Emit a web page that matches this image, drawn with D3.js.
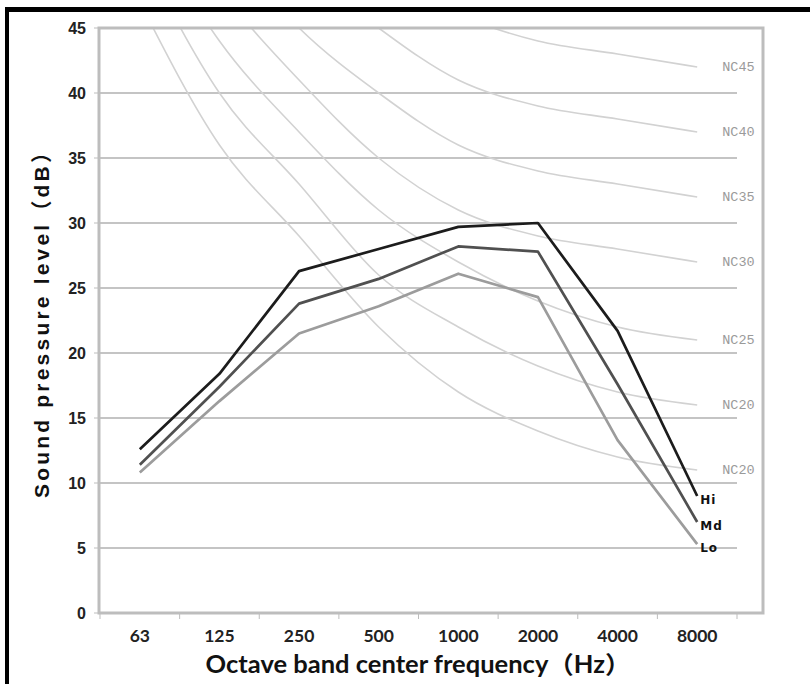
<!DOCTYPE html>
<html>
<head>
<meta charset="utf-8">
<script src="https://cdn.jsdelivr.net/npm/d3@7"></script>
<style>
  body { margin: 0; background: #fff; }
  svg { display: block; }
</style>
</head>
<body>
<div class="container"></div>
<script>
// octave bands
var bands = ["63", "125", "250", "500", "1000", "2000", "4000", "8000"];

// measured levels for each fan speed
var hiValues = [12.6, 18.4, 26.3, 28.0, 29.7, 30.0, 21.7, 9.0];
var mdValues = [11.4, 17.4, 23.8, 25.7, 28.2, 27.8, 17.6, 7.0];
var loValues = [10.8, 16.3, 21.5, 23.6, 26.1, 24.3, 13.3, 5.3];
var seriesNames = ["Hi", "Md", "Lo"];

// NC reference curves (label as printed in the chart)
var ncLabels = ["NC45", "NC40", "NC35", "NC30", "NC25", "NC20", "NC20"];
var ncValues = [
  [67, 60, 54, 49, 46, 44, 43, 42],
  [64, 56, 50, 45, 41, 39, 38, 37],
  [60, 52, 45, 40, 36, 34, 33, 32],
  [57, 48, 41, 35, 31, 29, 28, 27],
  [54, 44, 37, 31, 27, 24, 22, 21],
  [51, 40, 33, 26, 22, 19, 17, 16],
  [47, 36, 29, 22, 17, 14, 12, 11]
];

var yTicks = [0, 5, 10, 15, 20, 25, 30, 35, 40, 45];

var width = 810;
var height = 684;

var svg = d3.select(".container")
  .append("svg")
  .attr("width", width)
  .attr("height", height);

// black frame on top and left
svg.append("rect").attr("x", 5).attr("y", 7).attr("width", width - 5).attr("height", 5).attr("fill", "#000");
svg.append("rect").attr("x", 5).attr("y", 7).attr("width", 4).attr("height", height - 7).attr("fill", "#000");

var plotLeft = 100, plotRight = 737, plotTop = 28, plotBottom = 613, boxRight = 763;

var x = d3.scaleBand().domain(bands).range([plotLeft, plotRight]);
var y = d3.scaleLinear().domain([0, 45]).range([plotBottom, plotTop]);
var cx = function (d) { return x(d) + x.bandwidth() / 2; };

// clip for the NC curves
svg.append("clipPath").attr("id", "plotclip")
  .append("rect").attr("x", plotLeft).attr("y", plotTop)
  .attr("width", boxRight - plotLeft).attr("height", plotBottom - plotTop);

// grid lines
svg.append("g").selectAll("line")
  .data(yTicks.filter(function (d) { return d > 0 && d < 45; }))
  .enter().append("line")
  .attr("x1", plotLeft).attr("x2", plotRight)
  .attr("y1", function (d) { return y(d); })
  .attr("y2", function (d) { return y(d); })
  .attr("stroke", "#8a8a8a")
  .attr("stroke-width", 1.2);

// NC curves
var ncLine = d3.line()
  .x(function (d, i) { return cx(bands[i]); })
  .y(function (d) { return y(d); })
  .curve(d3.curveMonotoneX);

svg.append("g").attr("clip-path", "url(#plotclip)")
  .selectAll("path")
  .data(ncValues)
  .enter().append("path")
  .attr("d", ncLine)
  .attr("fill", "none")
  .attr("stroke", "#d2d2d2")
  .attr("stroke-width", 1.6);

svg.append("g").selectAll("text")
  .data(ncValues)
  .enter().append("text")
  .attr("x", cx("8000") + 25)
  .attr("y", function (d) { return y(d[7]) + 4; })
  .attr("font-family", "Liberation Mono, monospace")
  .attr("font-size", 13.5)
  .attr("fill", "#9a9a9a")
  .text(function (d, i) { return ncLabels[i]; });

// plot box (light grey frame)
svg.append("rect")
  .attr("x", plotLeft - 1).attr("y", plotTop)
  .attr("width", boxRight - plotLeft + 1).attr("height", plotBottom - plotTop)
  .attr("fill", "none")
  .attr("stroke", "#bdbdbd")
  .attr("stroke-width", 3);

// tick marks
svg.append("g").selectAll("line")
  .data(yTicks)
  .enter().append("line")
  .attr("x1", plotLeft - 6).attr("x2", plotLeft)
  .attr("y1", function (d) { return y(d); })
  .attr("y2", function (d) { return y(d); })
  .attr("stroke", "#bdbdbd").attr("stroke-width", 1);

var xEdges = bands.map(function (b) { return x(b); }).concat([plotRight]);
svg.append("g").selectAll("line")
  .data(xEdges)
  .enter().append("line")
  .attr("x1", function (d) { return d; }).attr("x2", function (d) { return d; })
  .attr("y1", plotBottom).attr("y2", plotBottom + 6)
  .attr("stroke", "#bdbdbd").attr("stroke-width", 1);

// y tick labels
svg.append("g").selectAll("text")
  .data(yTicks)
  .enter().append("text")
  .attr("x", plotLeft - 14)
  .attr("y", function (d) { return y(d) + 6; })
  .attr("text-anchor", "end")
  .attr("font-family", "Liberation Sans, Arial, sans-serif")
  .attr("font-weight", "bold")
  .attr("font-size", 16)
  .attr("fill", "#222")
  .text(function (d) { return d; });

// x tick labels
svg.append("g").selectAll("text")
  .data(bands)
  .enter().append("text")
  .attr("x", function (d) { return cx(d); })
  .attr("y", plotBottom + 29)
  .attr("text-anchor", "middle")
  .attr("font-family", "Lato, sans-serif")
  .attr("font-weight", "bold")
  .attr("font-size", 17.5)
  .attr("fill", "#222")
  .text(function (d) { return d; });

// axis titles
svg.append("text")
  .attr("x", 418).attr("y", 673)
  .attr("text-anchor", "middle")
  .attr("font-family", "Lato, 'Noto Sans CJK SC', sans-serif")
  .attr("font-weight", "bold")
  .attr("font-size", 24)
  .attr("textLength", 425)
  .attr("lengthAdjust", "spacingAndGlyphs")
  .attr("fill", "#111")
  .text("Octave band center frequency（Hz）");

svg.append("text")
  .attr("transform", "translate(49," + 320 + ") rotate(-90)")
  .attr("text-anchor", "middle")
  .attr("font-family", "Liberation Sans, Arial, 'Noto Sans CJK SC', sans-serif")
  .attr("font-weight", "bold")
  .attr("font-size", 21)
  .attr("textLength", 356)
  .attr("lengthAdjust", "spacing")
  .attr("fill", "#111")
  .text("Sound pressure level（dB）");

// measured series
var series = [hiValues, mdValues, loValues];
var colors = ["#1c1c1c", "#505050", "#9c9c9c"];

var valLine = d3.line()
  .x(function (d, i) { return cx(bands[i]); })
  .y(function (d) { return y(d); });

svg.append("g").selectAll("path")
  .data(series)
  .enter().append("path")
  .attr("d", valLine)
  .attr("fill", "none")
  .attr("stroke", function (d, i) { return colors[i]; })
  .attr("stroke-width", 2.7)
  .attr("stroke-linejoin", "round");

svg.append("g").selectAll("text")
  .data(series)
  .enter().append("text")
  .attr("x", cx("8000") + 3)
  .attr("y", function (d) { return y(d[7]) + 8; })
  .attr("font-family", "DejaVu Sans, sans-serif")
  .attr("font-weight", "bold")
  .attr("font-size", 12)
  .attr("letter-spacing", 1)
  .attr("fill", "#111")
  .text(function (d, i) { return seriesNames[i]; });
</script>
</body>
</html>
